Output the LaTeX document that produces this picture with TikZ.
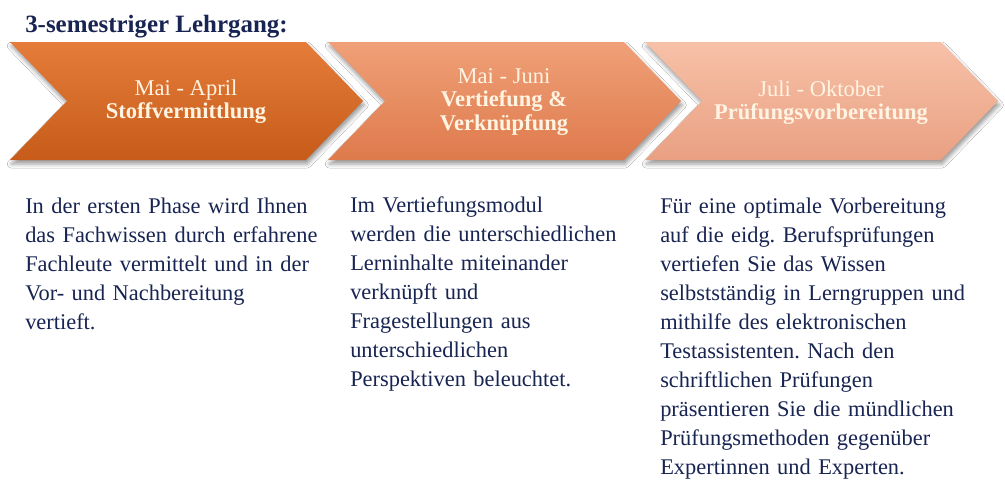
\documentclass[tikz,border=0pt]{standalone}
\usepackage{fontspec}
\setmainfont{Liberation Serif}
\usepackage{tikz}
\usetikzlibrary{shadows.blur}
\definecolor{mynavy}{RGB}{24,36,82}
\definecolor{mycream}{RGB}{255,243,226}
\definecolor{myorangetop}{RGB}{229,124,58}
\definecolor{myorangebot}{RGB}{199,92,26}
\definecolor{mysalmontop}{RGB}{240,160,120}
\definecolor{mysalmonbot}{RGB}{222,122,76}
\definecolor{mypeachtop}{RGB}{247,193,168}
\definecolor{mypeachbot}{RGB}{233,160,130}
\frenchspacing

\begin{document}
\begin{tikzpicture}[x=0.75pt, y=-0.75pt,
		chev/.style = {blur shadow={shadow xshift=1pt, shadow yshift=-3pt, shadow blur radius=3pt, shadow opacity=40}},
		phase/.style = {align=center, text=mycream, inner sep=0pt, font=\fontsize{16.9pt}{17.3pt}\selectfont},
		body/.style = {anchor=base west, align=left, text width=240pt, inner sep=0pt, text=mynavy, font=\fontsize{16.8pt}{21.8pt}\selectfont}]
		\useasboundingbox[fill=white] (0,0) rectangle (1005,497);
		\node[anchor=base west, inner sep=0pt, text=mynavy, font=\fontsize{18.7pt}{20pt}\selectfont\bfseries] (title) at (25,32) {3-semestriger Lehrgang:};
		% chevrons
		\path[chev, top color=myorangetop, bottom color=myorangebot] (10,42) -- (306,42) -- (363,101) -- (306,160) -- (10,160) -- (67,101) -- cycle;
		\path[chev, top color=mysalmontop, bottom color=mysalmonbot] (328,42) -- (624,42) -- (681,101) -- (624,160) -- (328,160) -- (385,101) -- cycle;
		\path[chev, top color=mypeachtop, bottom color=mypeachbot] (645,42) -- (941,42) -- (998,101) -- (941,160) -- (645,160) -- (702,101) -- cycle;
		\node[phase] (phaseA) at (186,102) {Mai - April\\\textbf{Stoffvermittlung}};
		\node[phase] (phaseB) at (504,102) {Mai - Juni\\\textbf{Vertiefung \&}\\\textbf{Verknüpfung}};
		\node[phase] (phaseC) at (821,103) {Juli - Oktober\\\textbf{Prüfungsvorbereitung}};
		% descriptions
		\node[body] (textA) at (25,213) {In der ersten Phase wird Ihnen\\das Fachwissen durch erfahrene\\Fachleute vermittelt und in der\\Vor- und Nachbereitung\\vertieft.};
		\node[body] (textB) at (350,212) {Im Vertiefungsmodul\\werden die unterschiedlichen\\Lerninhalte miteinander\\verknüpft und\\Fragestellungen aus\\unterschiedlichen\\Perspektiven beleuchtet.};
		\node[body] (textC) at (660,213) {Für eine optimale Vorbereitung\\auf die eidg. Berufsprüfungen\\vertiefen Sie das Wissen\\selbstständig in Lerngruppen und\\mithilfe des elektronischen\\Testassistenten. Nach den\\schriftlichen Prüfungen\\präsentieren Sie die mündlichen\\Prüfungsmethoden gegenüber\\Expertinnen und Experten.};
	\end{tikzpicture}
\end{document}
